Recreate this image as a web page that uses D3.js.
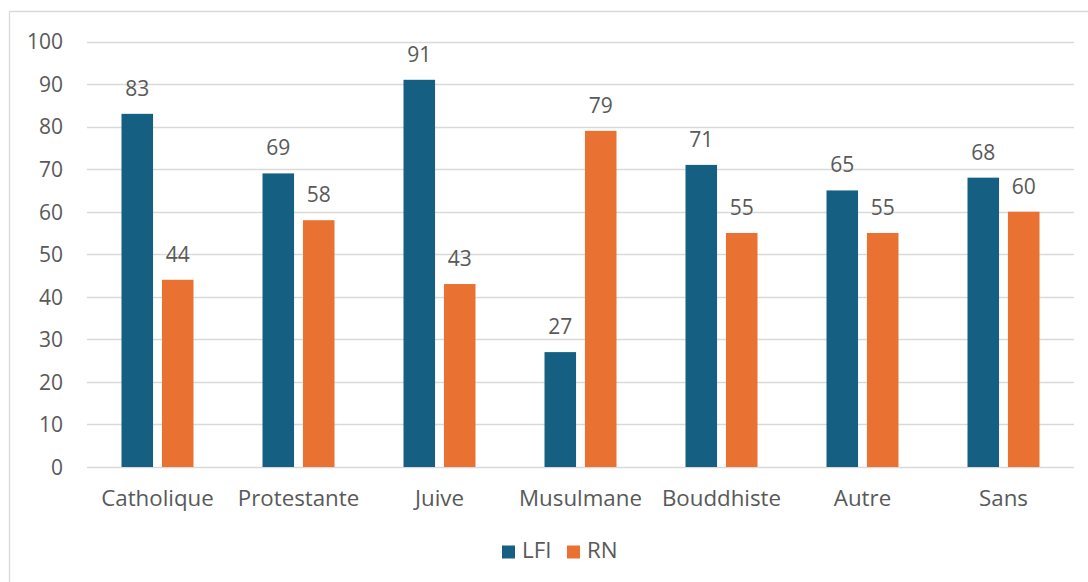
<!DOCTYPE html>
<html><head><meta charset="utf-8">
<script src="https://cdn.jsdelivr.net/npm/d3@7"></script>
<style>
html,body{margin:0;padding:0;background:#fff;}
svg{display:block;}
text{font-family:"Open Sans","Liberation Sans",sans-serif;fill:#595959;}
</style></head>
<body>
<svg id="c" width="1088" height="582"></svg>
<script>
const categories = ["Catholique","Protestante","Juive","Musulmane","Bouddhiste","Autre","Sans"];
const seriesNames = ["LFI","RN"];
const lfiValues = [83,69,91,27,71,65,68];
const rnValues = [44,58,43,79,55,55,60];
const yTicks = [0,10,20,30,40,50,60,70,80,90,100];
const colors = {LFI:"#156082", RN:"#E97132"};

(function(){
const svg = d3.select("#c");
const W = 1088, H = 582;
const pLeft = 87, pRight = 1074, pTop = 41.5, pBottom = 467;
const fsNum = 21;
const fsTxt = 22.3;

// outer border (top & left only visible)
svg.append("path").attr("d", `M9.5,${H} L9.5,11.5 L${W},11.5`)
  .attr("fill","none").attr("stroke","#d9d9d9").attr("stroke-width",1.3);

const y = d3.scaleLinear().domain([0,100]).range([pBottom, pTop]);
const x0 = d3.scaleBand().domain(categories).range([pLeft, pRight]).padding(0);
const bw = x0.bandwidth();
const x1 = d3.scaleBand().domain(seriesNames).range([(bw-72)/2, (bw+72)/2]).paddingInner(0.22).paddingOuter(0);

// gridlines
svg.append("g").selectAll("line").data(yTicks).join("line")
  .attr("x1", pLeft).attr("x2", pRight)
  .attr("y1", d => Math.round(y(d))+0.5).attr("y2", d => Math.round(y(d))+0.5)
  .attr("stroke","#d9d9d9").attr("stroke-width",1.5);

// y axis labels
const yAxis = d3.axisLeft(y).tickValues(yTicks).tickSize(0).tickPadding(0);
const ga = svg.append("g").attr("transform","translate(63,0)").call(yAxis);
ga.select(".domain").remove();
ga.selectAll("text").attr("font-size", fsNum).attr("font-family","Open Sans").attr("fill","#595959").attr("dy","0.35em").attr("x",0);

const data = categories.map((c,i)=>({cat:c, vals:[{s:"LFI",v:lfiValues[i]},{s:"RN",v:rnValues[i]}]}));

const groups = svg.append("g").selectAll("g").data(data).join("g")
  .attr("transform", d => `translate(${x0(d.cat)},0)`);

groups.selectAll("rect").data(d=>d.vals).join("rect")
  .attr("x", d => x1(d.s)).attr("width", x1.bandwidth())
  .attr("y", d => y(d.v)).attr("height", d => y(0) - y(d.v))
  .attr("fill", d => colors[d.s]);

groups.selectAll("text.lbl").data(d=>d.vals).join("text").attr("class","lbl")
  .attr("x", d => x1(d.s) + x1.bandwidth()/2)
  .attr("y", d => y(d.v) - 18)
  .attr("text-anchor","middle").attr("font-size", fsNum)
  .text(d => d.v);

// x axis labels
const xAxis = d3.axisBottom(x0).tickSize(0).tickPadding(0);
const gx = svg.append("g").attr("transform",`translate(0,${pBottom})`).call(xAxis);
gx.select(".domain").remove();
gx.selectAll("text").attr("font-size", fsTxt).attr("font-family","Open Sans").attr("fill","#595959").attr("dy",null).attr("y",39);

// legend
const lg = svg.append("g").selectAll("g").data(seriesNames).join("g")
  .attr("transform",(d,i)=>`translate(${i===0?502:567},0)`);
lg.append("rect").attr("x",0).attr("y",545.5).attr("width",13).attr("height",13).attr("fill",d=>colors[d]);
lg.append("text").attr("x",20).attr("y",558).attr("font-size",fsTxt).text(d=>d);
})();
</script>
</body></html>
